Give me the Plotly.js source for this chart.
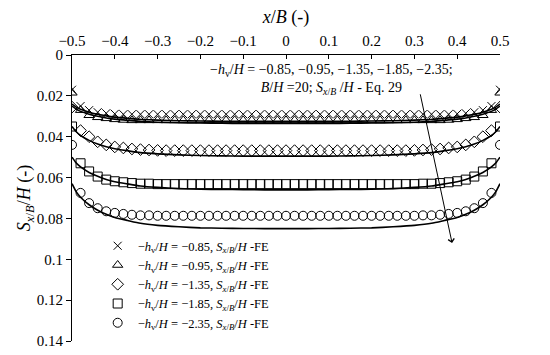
<!DOCTYPE html>
<html>
<head>
<meta charset="utf-8">
<script src="https://cdn.plot.ly/plotly-3.0.1.min.js"></script>
<style>html,body{margin:0;padding:0;background:#fff;}#chart{width:550px;height:355px;}</style>
</head>
<body>
<div id="chart"></div>
<script>
// FE results (markers)
const xFE = [-0.5,-0.48,-0.46,-0.44,-0.42,-0.4,-0.38,-0.36,-0.34,-0.32,-0.3,-0.28,-0.26,-0.24,-0.22,-0.2,-0.18,-0.16,-0.14,-0.12,-0.1,-0.08,-0.06,-0.04,-0.02,0,0.02,0.04,0.06,0.08,0.1,0.12,0.14,0.16,0.18,0.2,0.22,0.24,0.26,0.28,0.3,0.32,0.34,0.36,0.38,0.4,0.42,0.44,0.46,0.48,0.5];
const fe085 = [0.017,0.025,0.027,0.028,0.0285,0.0288,0.029,0.029,0.029,0.029,0.029,0.029,0.029,0.029,0.029,0.029,0.029,0.029,0.029,0.029,0.029,0.029,0.029,0.029,0.029,0.029,0.029,0.029,0.029,0.029,0.029,0.029,0.029,0.029,0.029,0.029,0.029,0.029,0.029,0.029,0.029,0.029,0.029,0.029,0.029,0.0288,0.0285,0.028,0.027,0.025,0.017];
const fe095 = [0.0185,0.027,0.0295,0.0305,0.031,0.0315,0.0318,0.032,0.032,0.032,0.032,0.032,0.032,0.032,0.032,0.032,0.032,0.032,0.032,0.032,0.032,0.032,0.032,0.032,0.032,0.032,0.032,0.032,0.032,0.032,0.032,0.032,0.032,0.032,0.032,0.032,0.032,0.032,0.032,0.032,0.032,0.032,0.032,0.032,0.0318,0.0315,0.031,0.0305,0.0295,0.027,0.0185];
const fe135 = [0.0255,0.037,0.040,0.0425,0.044,0.045,0.0455,0.046,0.0463,0.0465,0.0467,0.0468,0.0468,0.0468,0.0468,0.0468,0.0468,0.0468,0.0468,0.0468,0.0468,0.0468,0.0468,0.0468,0.0468,0.0468,0.0468,0.0468,0.0468,0.0468,0.0468,0.0468,0.0468,0.0468,0.0468,0.0468,0.0468,0.0468,0.0468,0.0468,0.0467,0.0465,0.0463,0.046,0.0455,0.045,0.044,0.0425,0.040,0.037,0.0255];
const fe185 = [0.035,0.053,0.057,0.0595,0.061,0.0618,0.0623,0.0627,0.063,0.063,0.0632,0.0632,0.0632,0.0632,0.0632,0.0632,0.0632,0.0632,0.0632,0.0632,0.0632,0.0632,0.0632,0.0632,0.0632,0.0632,0.0632,0.0632,0.0632,0.0632,0.0632,0.0632,0.0632,0.0632,0.0632,0.0632,0.0632,0.0632,0.0632,0.0632,0.0632,0.063,0.063,0.0627,0.0623,0.0618,0.061,0.0595,0.057,0.053,0.035];
const fe235 = [0.044,0.0675,0.0725,0.075,0.0765,0.0773,0.0778,0.0782,0.0785,0.0785,0.0787,0.0787,0.0787,0.0787,0.0787,0.0787,0.0787,0.0787,0.0787,0.0787,0.0787,0.0787,0.0787,0.0787,0.0787,0.0787,0.0787,0.0787,0.0787,0.0787,0.0787,0.0787,0.0787,0.0787,0.0787,0.0787,0.0787,0.0787,0.0787,0.0787,0.0787,0.0785,0.0785,0.0782,0.0778,0.0773,0.0765,0.075,0.0725,0.0675,0.044];

// Eq. 29 (solid lines)
const xEq = [-0.5,-0.49,-0.48,-0.46,-0.44,-0.42,-0.4,-0.37,-0.34,-0.3,-0.25,-0.2,-0.15,-0.1,-0.05,0,0.05,0.1,0.15,0.2,0.25,0.3,0.34,0.37,0.4,0.42,0.44,0.46,0.48,0.49,0.5];
const eq085 = [0.0240,0.0255,0.0266,0.0280,0.0290,0.0298,0.0304,0.0310,0.0315,0.0319,0.0322,0.0323,0.0324,0.0325,0.0325,0.0325,0.0325,0.0325,0.0324,0.0323,0.0322,0.0319,0.0315,0.0310,0.0304,0.0298,0.0290,0.0280,0.0266,0.0255,0.0240];
const eq095 = [0.0250,0.0265,0.0276,0.0290,0.0300,0.0308,0.0314,0.0320,0.0325,0.0329,0.0332,0.0333,0.0334,0.0335,0.0335,0.0335,0.0335,0.0335,0.0334,0.0333,0.0332,0.0329,0.0325,0.0320,0.0314,0.0308,0.0300,0.0290,0.0276,0.0265,0.0250];
const eq135 = [0.0350,0.0376,0.0394,0.0418,0.0436,0.0449,0.0459,0.0469,0.0478,0.0484,0.0489,0.0492,0.0494,0.0495,0.0495,0.0495,0.0495,0.0495,0.0494,0.0492,0.0489,0.0484,0.0478,0.0469,0.0459,0.0449,0.0436,0.0418,0.0394,0.0376,0.0350];
const eq185 = [0.0500,0.0529,0.0548,0.0575,0.0594,0.0609,0.0620,0.0631,0.0641,0.0648,0.0654,0.0657,0.0658,0.0659,0.0660,0.0660,0.0660,0.0659,0.0658,0.0657,0.0654,0.0648,0.0641,0.0631,0.0620,0.0609,0.0594,0.0575,0.0548,0.0529,0.0500];
const eq235 = [0.0630,0.0670,0.0696,0.0733,0.0760,0.0780,0.0795,0.0810,0.0824,0.0834,0.0841,0.0846,0.0848,0.0849,0.0850,0.0850,0.0850,0.0849,0.0848,0.0846,0.0841,0.0834,0.0824,0.0810,0.0795,0.0780,0.0760,0.0733,0.0696,0.0670,0.0630];

const hvLabels = ["−0.85","−0.95","−1.35","−1.85","−2.35"];
const symbols = ["x-thin-open","triangle-up-open","diamond-open","square-open","circle-open"];
const feSeries = [fe085, fe095, fe135, fe185, fe235];
const eqSeries = [eq085, eq095, eq135, eq185, eq235];

const FONT = "Liberation Serif, Times New Roman, serif";
const traces = [];
eqSeries.forEach((ys) => {
  traces.push({x: xEq, y: ys, type: "scatter", mode: "lines",
    line: {color: "#000", width: 1.6, shape: "spline", smoothing: 0.6},
    showlegend: false, hoverinfo: "skip"});
});
feSeries.forEach((ys, i) => {
  traces.push({x: xFE, y: ys, type: "scatter", mode: "markers",
    name: "−<i>h</i><sub>v</sub>/<i>H</i> = " + hvLabels[i] + ", <i>S</i><sub><i>x</i>/<i>B</i></sub>/<i>H</i> -FE",
    marker: {symbol: symbols[i], size: i === 0 ? 8 : 9, color: "#000", line: {color: "#000", width: 1}}});
});

const layout = {
  width: 550, height: 355,
  margin: {l: 72, r: 50, t: 55, b: 14},
  paper_bgcolor: "#fff", plot_bgcolor: "#fff",
  font: {family: FONT, color: "#000", size: 15},
  showlegend: true,
  legend: {x: 0.06, y: 0.01, xanchor: "left", yanchor: "bottom",
    bgcolor: "rgba(0,0,0,0)", font: {family: FONT, size: 12.5, color: "#000"}, tracegroupgap: 0},
  xaxis: {side: "top", range: [-0.5, 0.5], dtick: 0.1, tick0: -0.5,
    showgrid: false, zeroline: false, showline: true, linecolor: "#000", linewidth: 1,
    ticks: "inside", ticklen: 4, tickcolor: "#000", ticklabelstandoff: 2,
    tickfont: {family: FONT, size: 15},
    title: {text: "<i>x</i>/<i>B</i> (-)", font: {family: FONT, size: 18}, standoff: 4}},
  yaxis: {range: [0.14, 0], dtick: 0.02, tick0: 0,
    showgrid: false, zeroline: false, showline: true, linecolor: "#000", linewidth: 1,
    ticks: "outside", ticklen: 5, tickcolor: "#000",
    tickfont: {family: FONT, size: 15},
    title: {text: "<i>S</i><sub><i>x</i>/<i>B</i></sub>/<i>H</i> (-)", font: {family: FONT, size: 18}, standoff: 0}},
  annotations: [
    {xref: "paper", yref: "paper", x: 0.607, y: 0.915, xanchor: "center", yanchor: "middle",
     showarrow: false, align: "center", font: {family: FONT, size: 14},
     text: "−<i>h</i><sub>v</sub>/<i>H</i> = −0.85, −0.95, −1.35, −1.85, −2.35;<br><i>B</i>/<i>H</i> =20; <i>S</i><sub><i>x</i>/<i>B</i></sub> /<i>H</i> - Eq. 29"},
    {xref: "x", yref: "y", axref: "x", ayref: "y", x: 0.388, y: 0.092, ax: 0.313, ay: 0.0185,
     showarrow: true, arrowhead: 4, arrowsize: 1.2, arrowwidth: 1, arrowcolor: "#000", text: ""}
  ]
};

Plotly.newPlot("chart", traces, layout, {displayModeBar: false, staticPlot: true});
</script>
</body>
</html>
